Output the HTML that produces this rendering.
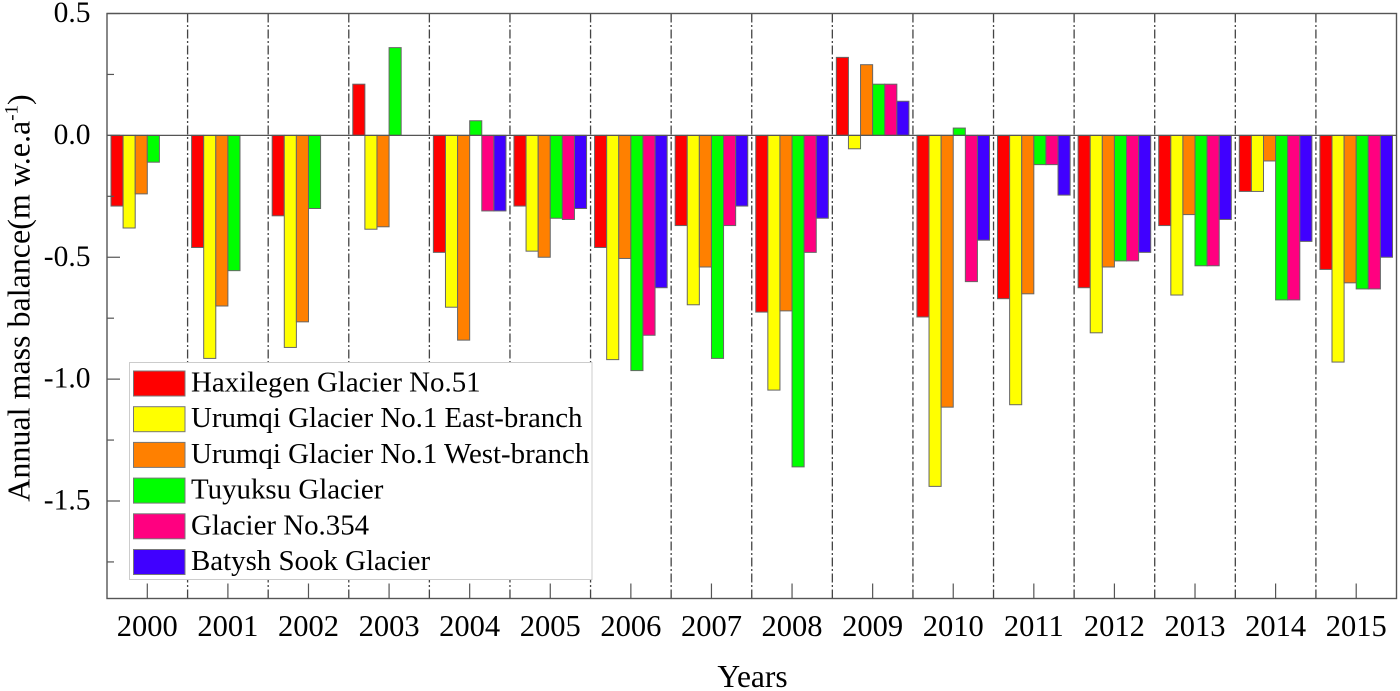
<!DOCTYPE html>
<html>
<head>
<meta charset="utf-8">
<style>
html,body{margin:0;padding:0;background:#fff;width:1400px;height:691px;overflow:hidden}
svg{display:block}
text{font-family:"Liberation Serif",serif;fill:#000}
</style>
</head>
<body>
<svg id="chart" xmlns="http://www.w3.org/2000/svg" width="1400" height="691" viewBox="0 0 1400 691"></svg>
<script>
const years = ['2000','2001','2002','2003','2004','2005','2006','2007','2008','2009','2010','2011','2012','2013','2014','2015'];
const seriesNames = ['Haxilegen Glacier No.51','Urumqi Glacier No.1 East-branch','Urumqi Glacier No.1 West-branch','Tuyuksu Glacier','Glacier No.354','Batysh Sook Glacier'];
const seriesColors = ['#ff0000','#ffff00','#ff8000','#00ff00','#ff0080','#4000ff'];
const haxilegen = [-0.29,-0.46,-0.33,0.21,-0.48,-0.29,-0.46,-0.37,-0.725,0.32,-0.745,-0.67,-0.625,-0.37,-0.23,-0.55];
const urumqiEast = [-0.38,-0.915,-0.87,-0.385,-0.705,-0.475,-0.92,-0.695,-1.045,-0.055,-1.44,-1.105,-0.81,-0.655,-0.23,-0.93];
const urumqiWest = [-0.24,-0.70,-0.765,-0.375,-0.84,-0.50,-0.505,-0.54,-0.72,0.29,-1.115,-0.65,-0.54,-0.325,-0.105,-0.605];
const tuyuksu = [-0.11,-0.555,-0.30,0.36,0.06,-0.34,-0.965,-0.915,-1.36,0.21,0.03,-0.12,-0.515,-0.535,-0.675,-0.63];
const glacier354 = [null,null,null,null,-0.31,-0.345,-0.82,-0.37,-0.48,0.21,-0.60,-0.12,-0.515,-0.535,-0.675,-0.63];
const batyshSook = [null,null,null,null,-0.31,-0.30,-0.625,-0.29,-0.34,0.14,-0.43,-0.245,-0.48,-0.345,-0.435,-0.50];
const allSeries = [haxilegen,urumqiEast,urumqiWest,tuyuksu,glacier354,batyshSook];
const yMajorTicks = [0.5,0,-0.5,-1,-1.5];
const yMinorTicks = [0.25,-0.25,-0.75,-1.25,-1.75];
const yTickLabels = ['0.5','0.0','-0.5','-1.0','-1.5'];

const svg = document.getElementById('chart');
const NS = 'http://www.w3.org/2000/svg';
const L = 107, R = 1396.5, T = 13.5, B = 598.5;
const yMax = 0.5, yMin = -1.9;
const step = (R - L) / years.length;
const slot = 12.1;
function yScale(v){ return T + (yMax - v) / (yMax - yMin) * (B - T); }
function xCenter(i){ return L + step * (i + 0.5); }
function xEdge(i){ return L + step * i; }
function make(tag, attrs, parent){
  const el = document.createElementNS(NS, tag);
  for (const k in attrs) el.setAttribute(k, attrs[k]);
  (parent || svg).appendChild(el);
  return el;
}
const AXIS = '#555';

// year dividers
for (let i = 1; i < years.length; i++){
  const d = make('line',{x1:xEdge(i),x2:xEdge(i),y1:T,y2:B,stroke:'#444','stroke-width':1.3,'stroke-dasharray':'9 2.5 2 2.5'});
  
  
}

// bars
allSeries.forEach((vals, s) => {
  vals.forEach((v, i) => {
    if (v === null) return;
    const x = xCenter(i) + (s - 3) * slot;
    const y0 = yScale(0), y1 = yScale(v);
    const bar = make('rect',{x:x,y:Math.min(y0,y1),width:slot,height:Math.abs(y1-y0),fill:seriesColors[s],stroke:'#666','stroke-width':1});
    
    
  });
});

// zero line
const zero = make('line',{x1:L,x2:R,y1:yScale(0),y2:yScale(0),stroke:AXIS,'stroke-width':1.3});



// x ticks and labels
years.forEach((yr, i) => {
  const t = make('line',{x1:xCenter(i),x2:xCenter(i),y1:B,y2:B-15,stroke:AXIS,'stroke-width':1.2});
  
  
  const lb = make('text',{x:xCenter(i),y:636,'font-size':30.5,'text-anchor':'middle'});
  lb.textContent = yr;
  
  
});

// y ticks and labels
yMajorTicks.forEach((v, i) => {
  const t = make('line',{x1:L,x2:L+13,y1:yScale(v),y2:yScale(v),stroke:AXIS,'stroke-width':1.2});
  
  
  const lb = make('text',{x:90.5,y:yScale(v)+8.5,'font-size':29.5,'text-anchor':'end'});
  lb.textContent = yTickLabels[i];
  
  
});
yMinorTicks.forEach(v => {
  const t = make('line',{x1:L,x2:L+7,y1:yScale(v),y2:yScale(v),stroke:AXIS,'stroke-width':1.2});
  
  
});

// frame
const frame = make('rect',{x:L,y:T,width:R-L,height:B-T,fill:'none',stroke:AXIS,'stroke-width':1.4});



// legend
const legend = make('g',{});


const legendBox = make('rect',{x:129.5,y:362.5,width:462.5,height:217,fill:'#fff',stroke:'#ccc','stroke-width':1},legend);


seriesNames.forEach((name, s) => {
  const yTop = 371 + s * 35.7;
  const sw = make('rect',{x:133.5,y:yTop,width:51.5,height:25,fill:seriesColors[s],stroke:'#777','stroke-width':1},legend);
  
  
  const tx = make('text',{x:191,y:yTop+20.5,'font-size':28.9},legend);
  tx.textContent = name;
  
  
});

// axis titles
const xTitle = make('text',{x:752.5,y:687,'font-size':31.5,'text-anchor':'middle'});
xTitle.textContent = 'Years';



const yTitle = make('text',{x:0,y:0,'font-size':32,'text-anchor':'middle',transform:'translate(29.5,298) rotate(-90)'});


const t1 = make('tspan',{},yTitle);
t1.textContent = 'Annual mass balance(m w.e.a';
const t2 = make('tspan',{'font-size':19,dy:-12},yTitle);
t2.textContent = '-1';
const t3 = make('tspan',{dy:12},yTitle);
t3.textContent = ')';
</script>
</body>
</html>
